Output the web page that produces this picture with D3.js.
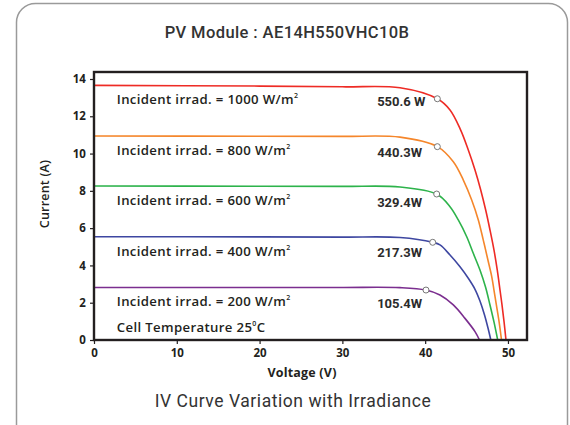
<!DOCTYPE html>
<html><head><meta charset="utf-8">
<script src="https://cdn.jsdelivr.net/npm/d3@7"></script>
<style>
html,body{margin:0;padding:0;background:#fff;}
svg{display:block;}
</style></head>
<body>
<svg id="chart" width="570" height="425"></svg>
<script>
// ---- data ----
const irradiance = [1000, 800, 600, 400, 200];
const powerLabels = ["550.6 W", "440.3W", "329.4W", "217.3W", "105.4W"];
const seriesColors = ["#ee2b25", "#f5862b", "#2db34b", "#3e47a1", "#7b2e8f"];
const curve1000 = [[0,13.66],[20,13.62],[30,13.58],[36.96,13.53],[41.47,12.94],[43.0,12.34],[44.29,11.26],[45.21,10.19],[46.02,9.12],[46.71,8.05],[47.31,6.97],[47.83,5.90],[48.31,4.83],[48.71,3.75],[49.04,2.68],[49.28,1.88],[49.53,0.97],[49.76,0]];
const curve800  = [[0,10.94],[20,10.93],[30,10.92],[36.96,10.88],[41.47,10.37],[43.40,9.56],[44.61,8.58],[45.62,7.51],[46.42,6.44],[47.02,5.36],[47.58,4.29],[48.04,3.40],[48.31,2.68],[48.60,1.88],[48.93,0.97],[49.22,0]];
const curve600  = [[0,8.26],[20,8.25],[30,8.24],[36.96,8.21],[41.39,7.83],[43.0,7.15],[44.0,6.44],[45.02,5.54],[45.81,4.65],[46.62,3.75],[47.29,2.84],[47.83,1.88],[48.31,0.97],[48.76,0]];
const curve400  = [[0,5.54],[20,5.53],[30,5.52],[36.96,5.50],[40.91,5.24],[41.79,5.10],[43.0,4.56],[44.21,3.93],[45.21,3.31],[46.02,2.72],[46.62,2.09],[47.17,1.34],[47.59,0.64],[47.93,0]];
const curve200  = [[0,2.82],[20,2.82],[30,2.82],[36.96,2.81],[40.10,2.68],[41.79,2.41],[43.40,1.88],[44.81,1.16],[46.02,0.45],[46.56,0]];
const mppV = [41.47, 41.47, 41.39, 40.91, 40.10];
const mppI = [12.94, 10.37, 7.83, 5.24, 2.68];
const xTicks = [0, 10, 20, 30, 40, 50];
const yTicks = [0, 2, 4, 6, 8, 10, 12, 14];
const curves = [curve1000, curve800, curve600, curve400, curve200];

// ---- layout ----
const svg = d3.select("#chart");
const pL = 94, pR = 527, pT = 72, pB = 340;
const x = d3.scaleLinear().domain([0, 52.3]).range([pL, pR]);
const y = d3.scaleLinear().domain([0, 14.375]).range([pB, pT]);
const FONT = "'Open Sans', sans-serif";

// outer rounded box
svg.append("rect").attr("x", 16.5).attr("y", 3.5).attr("width", 551).attr("height", 440)
  .attr("rx", 19).attr("fill", "#fff").attr("stroke", "#9a9a9a").attr("stroke-width", 1.5);

// title
svg.append("text").attr("x", 287).attr("y", 38).attr("text-anchor", "middle")
  .attr("font-family", "Roboto, sans-serif").attr("font-weight", 500).attr("font-size", 16.5)
  .attr("letter-spacing", 0.4).attr("fill", "#333").text("PV Module : AE14H550VHC10B");

// curves
const line = d3.line().x(d => x(d[0])).y(d => y(d[1])).curve(d3.curveCatmullRom.alpha(0.5));
const g = svg.append("g");
curves.forEach((c, i) => {
  g.append("path").datum(c).attr("d", line).attr("fill", "none")
    .attr("stroke", seriesColors[i]).attr("stroke-width", 1.6);
});

// frame
svg.append("rect").attr("x", pL).attr("y", pT).attr("width", pR - pL).attr("height", pB - pT)
  .attr("fill", "none").attr("stroke", "#231f20").attr("stroke-width", 2.4);

// MPP markers
mppV.forEach((v, i) => {
  svg.append("circle").attr("cx", x(v)).attr("cy", y(mppI[i])).attr("r", 3)
    .attr("fill", "#fff").attr("stroke", "#777").attr("stroke-width", 1);
});

// axes
const xAxis = svg.append("g").attr("transform", `translate(0,${pB})`)
  .call(d3.axisBottom(x).tickValues(xTicks).tickSize(4).tickFormat(d3.format("d")));
const yAxis = svg.append("g").attr("transform", `translate(${pL},0)`)
  .call(d3.axisLeft(y).tickValues(yTicks).tickSize(4).tickFormat(d3.format("d")));
[xAxis, yAxis].forEach(a => {
  a.select(".domain").remove();
  a.selectAll(".tick line").attr("stroke", "#231f20").attr("stroke-width", 1.2);
  a.selectAll(".tick text").attr("font-family", FONT).attr("font-weight", 700)
    .attr("font-size", 11.5).attr("fill", "#231f20");
});
xAxis.selectAll(".tick text").attr("dy", "0.85em");
yAxis.selectAll(".tick text").attr("dx", "-0.1em");

// axis titles
svg.append("text").attr("transform", "translate(49,194) rotate(-90)").attr("text-anchor", "middle")
  .attr("font-family", FONT).attr("font-weight", 600).attr("font-size", 12.5).attr("fill", "#231f20")
  .attr("letter-spacing", 0.2).text("Current (A)");
svg.append("text").attr("x", 302).attr("y", 377).attr("text-anchor", "middle")
  .attr("font-family", FONT).attr("font-weight", 700).attr("font-size", 12.5).attr("fill", "#231f20")
  .attr("letter-spacing", 0.2).text("Voltage (V)");

// annotations
curves.forEach((c, i) => {
  const base = y(c[0][1]) + 19;
  const t = svg.append("text").attr("x", x(2.75)).attr("y", base)
    .attr("font-family", FONT).attr("font-weight", 600).attr("font-size", 13.2)
    .attr("letter-spacing", 0.35).attr("fill", "#231f20");
  t.append("tspan").text(`Incident irrad. = ${irradiance[i]} W/m`);
  t.append("tspan").attr("font-size", 7).attr("dy", -6).text("2");
  svg.append("text").attr("x", x(34.2)).attr("y", y(c[0][1]) + 20.5)
    .attr("font-family", "Roboto, sans-serif").attr("font-weight", 700).attr("font-size", 13)
    .attr("fill", "#2b2b2b").text(powerLabels[i]);
});
const ct = svg.append("text").attr("x", x(2.75)).attr("y", 332)
  .attr("font-family", FONT).attr("font-weight", 600).attr("font-size", 13.2)
  .attr("letter-spacing", 0.35).attr("fill", "#231f20");
ct.append("tspan").text("Cell Temperature 25");
ct.append("tspan").attr("font-size", 7).attr("dy", -6).text("0");
ct.append("tspan").attr("dy", 6).text("C");

// bottom caption
svg.append("text").attr("x", 293).attr("y", 407).attr("text-anchor", "middle")
  .attr("font-family", "Roboto, sans-serif").attr("font-weight", 400).attr("font-size", 17.5)
  .attr("letter-spacing", 0.55).attr("fill", "#333").text("IV Curve Variation with Irradiance");
</script>
</body></html>
